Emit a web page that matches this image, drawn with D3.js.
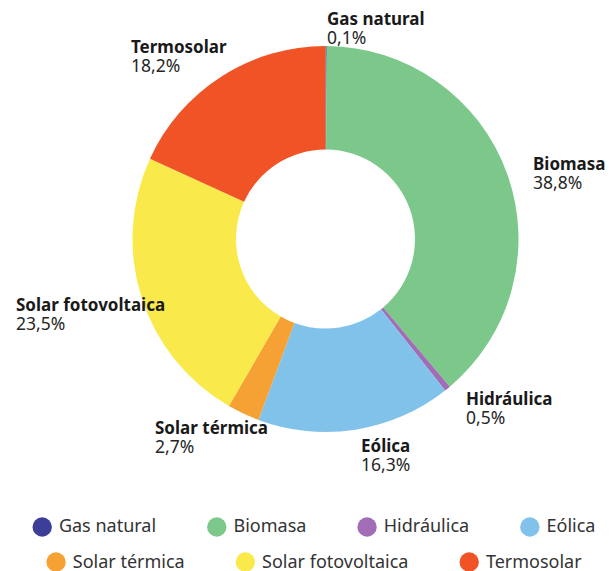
<!DOCTYPE html>
<html><head><meta charset="utf-8">
<script src="https://cdn.jsdelivr.net/npm/d3@7"></script>
<style>body{margin:0;background:#fff}svg{display:block}</style>
</head><body>
<svg id="c" width="615" height="571"></svg>
<script>
const categories = ["Gas natural","Biomasa","Hidráulica","Eólica","Solar térmica","Solar fotovoltaica","Termosolar"];
const values = [0.1, 38.8, 0.5, 16.3, 2.7, 23.5, 18.2];
const valueLabels = ["0,1%","38,8%","0,5%","16,3%","2,7%","23,5%","18,2%"];
const colors = ["#3d3e98","#7bc88a","#a06db6","#81c2ea","#f6a134","#f9e94b","#ef5326"];
// label anchor positions (layout, not data)
const labelPos = [[327,25],[533,170],[466,405],[361,452],[155,434],[16,311],[131,53]];
const legendRows = [[0,1,2,3],[4,5,6]];

const svg = d3.select("#c");
const cx = 325.5, cy = 239, rOuter = 193, rInner = 89.5;
const pie = d3.pie().sort(null).value(d => d.v);
const data = categories.map((c,i)=>({c, v: values[i], l: valueLabels[i], col: colors[i], i}));
const arcs = pie(data);
const arc = d3.arc().innerRadius(rInner).outerRadius(rOuter);
const g = svg.append("g").attr("transform", `translate(${cx},${cy})`);
g.selectAll("path").data(arcs).join("path").attr("d", arc).attr("fill", d => d.data.col);

const font = "'Noto Sans', sans-serif";
const lab = svg.append("g").attr("font-family", font).attr("fill", "#1a1a1a");
data.forEach((d,i) => {
  const [x,y] = labelPos[i];
  lab.append("text").attr("x", x).attr("y", y).attr("font-weight", 700).attr("font-size", 17).text(d.c);
  lab.append("text").attr("x", x).attr("y", y + 18.5).attr("font-size", 17.5).attr("fill","#262626").text(d.l);
});

// legend
const leg = svg.append("g").attr("font-family", font).attr("font-size", 18).attr("fill", "#333");
const rowY = [525, 561], circY = [527, 562], centerX = 314, r = 9.7, gapText = 7, gapItem = 51;
legendRows.forEach((row, ri) => {
  const items = row.map(i => {
    const t = leg.append("text").attr("dominant-baseline","central").attr("y", rowY[ri]).text(categories[i]);
    return {i, t, w: t.node().getComputedTextLength()};
  });
  const total = d3.sum(items, it => 2*r + gapText + it.w) + gapItem*(items.length-1);
  let x = centerX - total/2;
  items.forEach(it => {
    leg.append("circle").attr("cx", x + r).attr("cy", circY[ri]).attr("r", r).attr("fill", colors[it.i]);
    it.t.attr("x", x + 2*r + gapText);
    x += 2*r + gapText + it.w + gapItem;
  });
});
</script>
</body></html>
